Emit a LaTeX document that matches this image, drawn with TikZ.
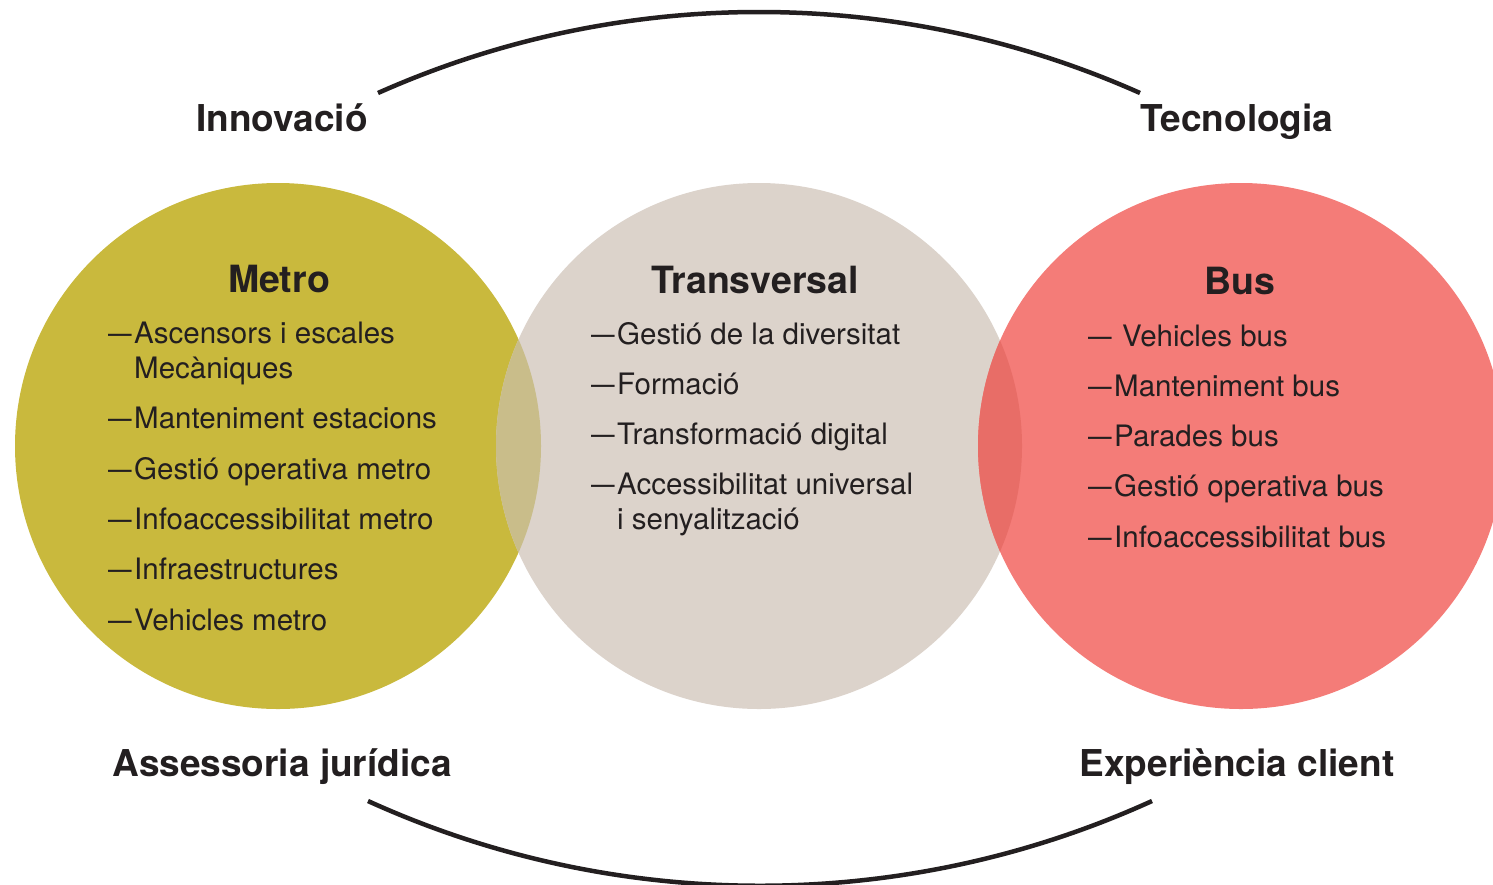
\documentclass[tikz,border=0pt]{standalone}
\usepackage{fontspec}
\setmainfont{TeX Gyre Heros}
\usepackage{graphicx}
\definecolor{metroc}{HTML}{C9B93D}
\definecolor{transc}{HTML}{DCD3CB}
\definecolor{busc}{HTML}{F47C78}
\definecolor{lensmt}{HTML}{C9BD8A}
\definecolor{lenstb}{HTML}{E86D67}
\definecolor{ink}{HTML}{231F20}
\newcommand\dsh{\makebox[26pt][l]{\scalebox{0.8}[1]{\textemdash}}}
\tikzset{
  disc/.style={circle,inner sep=0pt,minimum size=526pt,draw=none},
  head/.style={anchor=base,inner sep=0pt,text=ink,font=\fontsize{37.5}{42}\selectfont\bfseries},
  lab/.style={anchor=base,inner sep=0pt,text=ink,font=\fontsize{37}{42}\selectfont\bfseries},
  item/.style={anchor=base west,inner sep=0pt,text=ink,font=\fontsize{29.5}{34}\selectfont},
  arcline/.style={draw=ink,line width=4.5pt}
}
\begin{document}
\begin{tikzpicture}[x=1pt,y=-1pt]
\useasboundingbox (0,0) rectangle (1493,884);
\clip (0,0) rectangle (1493,884);
% circles
\node[disc,fill=metroc] (metro) at (278,446) {};
\node[disc,fill=transc] (trans) at (759,446) {};
\node[disc,fill=busc] (bus) at (1241,446) {};
\begin{scope}
  \clip (278,446) circle[radius=263];
  \fill[lensmt] (759,446) circle[radius=263];
\end{scope}
\begin{scope}
  \clip (759,446) circle[radius=263];
  \fill[lenstb] (1241,446) circle[radius=263];
\end{scope}
% arcs
\coordinate (tl) at (378,93);
\coordinate (tr) at (1140,93);
\coordinate (bl) at (368,801);
\coordinate (br) at (1152,801);
\draw[arcline] (tl) .. controls (620.4,-15) and (897.6,-15) .. (tr);
\draw[arcline] (bl) .. controls (616.3,914) and (903.7,914) .. (br);
% corner labels
\node[lab] (innov) at (282,131) {Innovació};
\node[lab] (tecno) at (1237,131) {Tecnologia};
\node[lab] (asses) at (282,776) {Assessoria jurídica};
\node[lab] (exper) at (1237,776) {Experiència client};
% Metro
\node[head] (hmetro) at (279,292) {Metro};
\node[item] (m1) at (108,343) {\dsh Ascensors i escales};
\node[item] (m1b) at (134,378) {Mecàniques};
\node[item] (m2) at (108,428.5) {\dsh Manteniment estacions};
\node[item] (m3) at (108,479) {\dsh Gestió operativa metro};
\node[item] (m4) at (108,529) {\dsh Infoaccessibilitat metro};
\node[item] (m5) at (108,579.5) {\dsh Infraestructures};
\node[item] (m6) at (108,630) {\dsh Vehicles metro};
% Transversal
\node[head] (htrans) at (755,293) {Transversal};
\node[item] (t1) at (591,344) {\dsh Gestió de la diversitat};
\node[item] (t2) at (591,394) {\dsh Formació};
\node[item] (t3) at (591,444) {\dsh Transformació digital};
\node[item] (t4) at (591,494.5) {\dsh Accessibilitat universal};
\node[item] (t4b) at (617,529.5) {i senyalització};
% Bus
\node[head] (hbus) at (1240,294) {Bus};
\node[item] (b1) at (1088,346) {\dsh\hspace{8pt}Vehicles bus};
\node[item] (b2) at (1088,396) {\dsh Manteniment bus};
\node[item] (b3) at (1088,446) {\dsh Parades bus};
\node[item] (b4) at (1088,496.5) {\dsh Gestió operativa bus};
\node[item] (b5) at (1088,547) {\dsh Infoaccessibilitat bus};
\end{tikzpicture}
\end{document}
